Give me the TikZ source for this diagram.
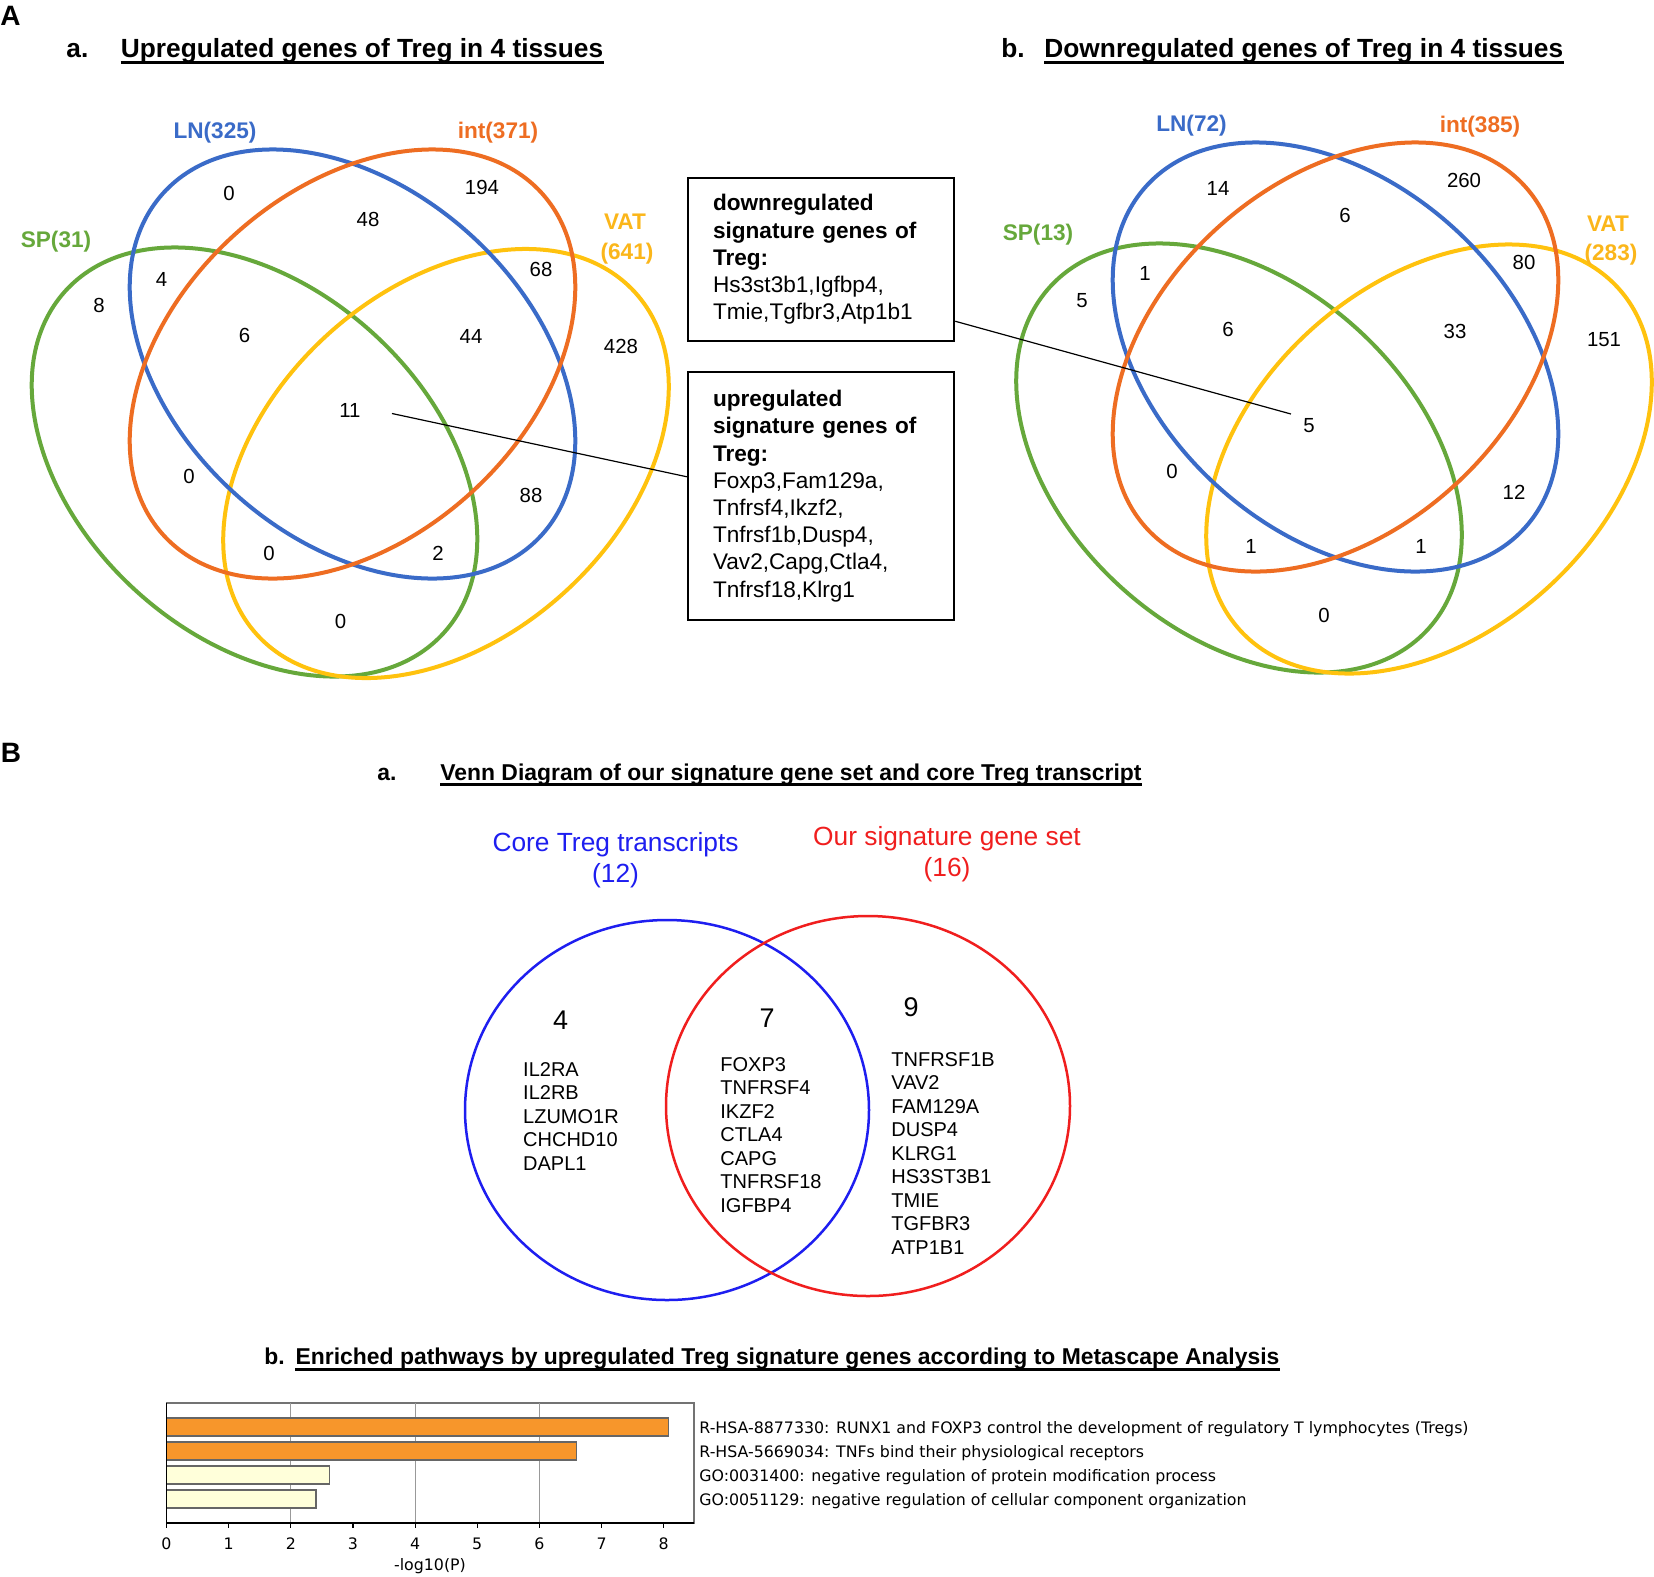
\documentclass[tikz,border=0pt]{standalone}
\usepackage{fontspec}
\setmainfont{Liberation Sans}
\newfontfamily\dejavu{DejaVu Sans}
\usetikzlibrary{calc}
\definecolor{vblue}{HTML}{3A6BC8}
\definecolor{vorange}{HTML}{EE6D22}
\definecolor{vgreen}{HTML}{66A83B}
\definecolor{vyellow}{HTML}{FFC20E}
\definecolor{vyellowtxt}{HTML}{FBB61A}
\definecolor{cblue}{HTML}{1E1EF0}
\definecolor{cred}{HTML}{F01E1E}
\definecolor{barorange}{HTML}{F7962B}
\definecolor{barpale}{HTML}{FFFFDA}
\begin{document}
\begin{tikzpicture}[x=0.5pt,y=-0.5pt,
  ell/.style={line width=2pt},
  vlab/.style={font=\fontsize{11.3}{13}\selectfont\bfseries, inner sep=0pt, text height=8.1pt, text depth=0pt},
  vnum/.style={font=\fontsize{10.2}{12}\selectfont, inner sep=0pt, text height=7.3pt, text depth=0pt},
  ttl/.style={font=\fontsize{13.15}{15}\selectfont\bfseries, inner sep=0pt, anchor=base west},
  ttlb/.style={font=\fontsize{11.45}{13}\selectfont\bfseries, inner sep=0pt, anchor=base west},
  uline/.style={line width=1.3pt},
  panel/.style={font=\fontsize{14}{16}\selectfont\bfseries, inner sep=0pt, text height=10pt, text depth=0pt},
  sigbox/.style={draw, line width=1.25pt, minimum width=133pt, text width=108pt, inner xsep=12.5pt, align=left, font=\fontsize{11.3}{13.6}\selectfont},
  lead/.style={line width=0.6pt},
  setlab/.style={font=\fontsize{13.15}{15.5}\selectfont, align=center, inner sep=0pt, anchor=north},
  bnum/.style={font=\fontsize{13.5}{15}\selectfont, inner sep=0pt, text height=9.67pt, text depth=0pt},
  genes/.style={font=\fontsize{10}{11.75}\selectfont, align=left, inner sep=0pt, anchor=north west},
  circ/.style={line width=1.25pt},
  chart/.style={font=\dejavu\fontsize{7.9}{9}\selectfont, inner sep=0pt, text height=5.76pt, text depth=0pt},
  bar/.style={draw=black!60, line width=0.8pt},
]
\fill[white] (0,0) rectangle (1654,1576);
\useasboundingbox (0,0) rectangle (1654,1576);

% panel letters
\node[panel] (pA) at (10.5,15) {A};
\node[panel] (pB) at (11,752.5) {B};

% ---------- titles A ----------
\node[ttl] (aA) at (66,57.5) {a.};
\node[ttl] (tA) at (120.5,57.5) {Upregulated genes of Treg in 4 tissues};
\draw[uline] ($(tA.base west)+(0,5)$) -- ($(tA.base east)+(0,5)$);
\node[ttl] (bA) at (1001,57.5) {b.};
\node[ttl] (tB) at (1044,57.5) {Downregulated genes of Treg in 4 tissues};
\draw[uline] ($(tB.base west)+(0,5)$) -- ($(tB.base east)+(0,5)$);

% ---------- left Venn ----------
\draw[ell,vgreen,shift={(254.5,462)},rotate=-42] (0,0) ellipse [x radius=255, y radius=175];
\draw[ell,vyellow,shift={(446,463.5)},rotate=42] (0,0) ellipse [x radius=255, y radius=175];
\draw[ell,vblue,shift={(352.5,364)},rotate=-42] (0,0) ellipse [x radius=255, y radius=175];
\draw[ell,vorange,shift={(352.5,364)},rotate=42] (0,0) ellipse [x radius=255, y radius=175];

\node[vlab,vblue] (lnA) at (215,130) {LN(325)};
\node[vlab,vorange] (intA) at (498,130) {int(371)};
\node[vlab,vgreen] (spA) at (56,239) {SP(31)};
\node[vlab,vyellowtxt] (vatA) at (625,221) {VAT};
\node[vlab,vyellowtxt] (vatAc) at (627,251) {(641)};

\node[vnum] (a1) at (229,193) {0};
\node[vnum] (a2) at (482,187.5) {194};
\node[vnum] (a3) at (368,219.6) {48};
\node[vnum] (a4) at (541,269) {68};
\node[vnum] (a5) at (161.6,279) {4};
\node[vnum] (a6) at (99,305) {8};
\node[vnum] (a7) at (244.6,335) {6};
\node[vnum] (a8) at (471,336) {44};
\node[vnum] (a9) at (621,346) {428};
\node[vnum] (a11) at (350,410) {11};
\node[vnum] (a12) at (189,476) {0};
\node[vnum] (a13) at (531,495.5) {88};
\node[vnum] (a14) at (269,553.6) {0};
\node[vnum] (a15) at (438,553.6) {2};
\node[vnum] (a16) at (340.6,621) {0};

% ---------- boxes ----------
\node[sigbox, minimum height=81.5pt] (downbox) at (821,259.5)
  {\textbf{downregulated}\\\textbf{signature genes of}\\\textbf{Treg:}\\Hs3st3b1,Igfbp4,\\Tmie,Tgfbr3,Atp1b1};
\node[sigbox, minimum height=124pt] (upbox) at (821,496)
  {\textbf{upregulated}\\\textbf{signature genes of}\\\textbf{Treg:}\\Foxp3,Fam129a,\\Tnfrsf4,Ikzf2,\\Tnfrsf1b,Dusp4,\\Vav2,Capg,Ctla4,\\Tnfrsf18,Klrg1};

% ---------- right Venn ----------
\draw[ell,vgreen,shift={(1239,458)},rotate=-42] (0,0) ellipse [x radius=255, y radius=175];
\draw[ell,vyellow,shift={(1429,459)},rotate=42] (0,0) ellipse [x radius=255, y radius=175];
\draw[ell,vblue,shift={(1335.5,357)},rotate=-42] (0,0) ellipse [x radius=255, y radius=175];
\draw[ell,vorange,shift={(1335.5,357)},rotate=42] (0,0) ellipse [x radius=255, y radius=175];

\node[vlab,vblue] (lnB) at (1191.5,123.3) {LN(72)};
\node[vlab,vorange] (intB) at (1480,124.6) {int(385)};
\node[vlab,vgreen] (spB) at (1038,232) {SP(13)};
\node[vlab,vyellowtxt] (vatB) at (1608,223) {VAT};
\node[vlab,vyellowtxt] (vatBc) at (1611,252) {(283)};

\node[vnum] (b1) at (1218,188) {14};
\node[vnum] (b2) at (1464,180) {260};
\node[vnum] (b3) at (1345,215) {6};
\node[vnum] (b4) at (1145,273) {1};
\node[vnum] (b5) at (1524,262) {80};
\node[vnum] (b6) at (1082,300) {5};
\node[vnum] (b7) at (1228,329) {6};
\node[vnum] (b8) at (1455,331) {33};
\node[vnum] (b9) at (1604,339) {151};
\node[vnum] (b10) at (1309,425) {5};
\node[vnum] (b11) at (1172,471.5) {0};
\node[vnum] (b12) at (1514,492) {12};
\node[vnum] (b13) at (1251,546.5) {1};
\node[vnum] (b14) at (1421,546.5) {1};
\node[vnum] (b15) at (1324,615) {0};

% leader lines
\draw[lead] ($(a11.east)+(31,3.5)$) -- ($(upbox.north west)+(0,106)$);
\draw[lead] ($(downbox.south east)+(0,-21)$) -- ($(b10.west)+(-12,-11)$);

% ---------- panel B a ----------
\node[ttlb] (aB) at (377,780.2) {a.};
\node[ttlb] (tC) at (440,780.2) {Venn Diagram of our signature gene set and core Treg transcript};
\draw[uline] ($(tC.base west)+(0,4.5)$) -- ($(tC.base east)+(0,4.5)$);

\node[setlab,cblue] (core) at (615.6,832.5) {Core Treg transcripts\\(12)};
\node[setlab,cred] (ours) at (947,826.4) {Our signature gene set\\(16)};

\draw[circ,cblue] (667,1110) ellipse [x radius=202, y radius=190];
\draw[circ,cred] (868,1106) ellipse [x radius=202, y radius=190];

\node[bnum] (c4) at (560.7,1020) {4};
\node[bnum] (c7) at (767,1017.7) {7};
\node[bnum] (c9) at (911,1007) {9};

\node[genes] (gl) at (522.8,1061.8) {IL2RA\\IL2RB\\LZUMO1R\\CHCHD10\\DAPL1};
\node[genes] (gm) at (720,1056.8) {FOXP3\\TNFRSF4\\IKZF2\\CTLA4\\CAPG\\TNFRSF18\\IGFBP4};
\node[genes] (gr) at (891,1051.8) {TNFRSF1B\\VAV2\\FAM129A\\DUSP4\\KLRG1\\HS3ST3B1\\TMIE\\TGFBR3\\ATP1B1};

% ---------- panel B b ----------
\node[ttlb] (bB) at (264,1364.7) {b.};
\node[ttlb] (tD) at (295.3,1364.7) {Enriched pathways by upregulated Treg signature genes according to Metascape Analysis};
\draw[uline] ($(tD.base west)+(0,4.5)$) -- ($(tD.base east)+(0,4.5)$);

\draw[black!55, line width=0.7pt] (166.5,1403) rectangle (694,1523);
\foreach \v in {2,4,6}
  \draw[black!40, line width=0.5pt] ({166.5+62.15*\v},1403) -- ({166.5+62.15*\v},1523);
\draw[bar, fill=barorange] (166.5,1418) rectangle ({166.5+62.15*8.08},1436);
\draw[bar, fill=barorange] (166.5,1442) rectangle ({166.5+62.15*6.6},1460);
\draw[bar, fill=barpale] (166.5,1466) rectangle ({166.5+62.15*2.62},1484);
\draw[bar, fill=barpale] (166.5,1490) rectangle ({166.5+62.15*2.41},1508);
\draw[line width=1pt] (166.5,1523) -- (694,1523);
\draw[line width=0.8pt] (166.5,1403) -- (166.5,1523);
\foreach \v in {0,...,8} {
  \draw[line width=0.6pt] ({166.5+62.15*\v},1523) -- ++(0,5);
  \node[chart] (tk\v) at ({166.5+62.15*\v},1544) {\v};
}
\node[chart] (xl) at (430,1565) {-log10(P)};
\node[chart, anchor=west] (bl1) at (699,1428) {R-HSA-8877330: RUNX1 and FOXP3 control the development of regulatory T lymphocytes (Tregs)};
\node[chart, anchor=west] (bl2) at (699,1452) {R-HSA-5669034: TNFs bind their physiological receptors};
\node[chart, anchor=west] (bl3) at (699,1476) {GO:0031400: negative regulation of protein modification process};
\node[chart, anchor=west] (bl4) at (699,1500) {GO:0051129: negative regulation of cellular component organization};
\end{tikzpicture}
\end{document}
